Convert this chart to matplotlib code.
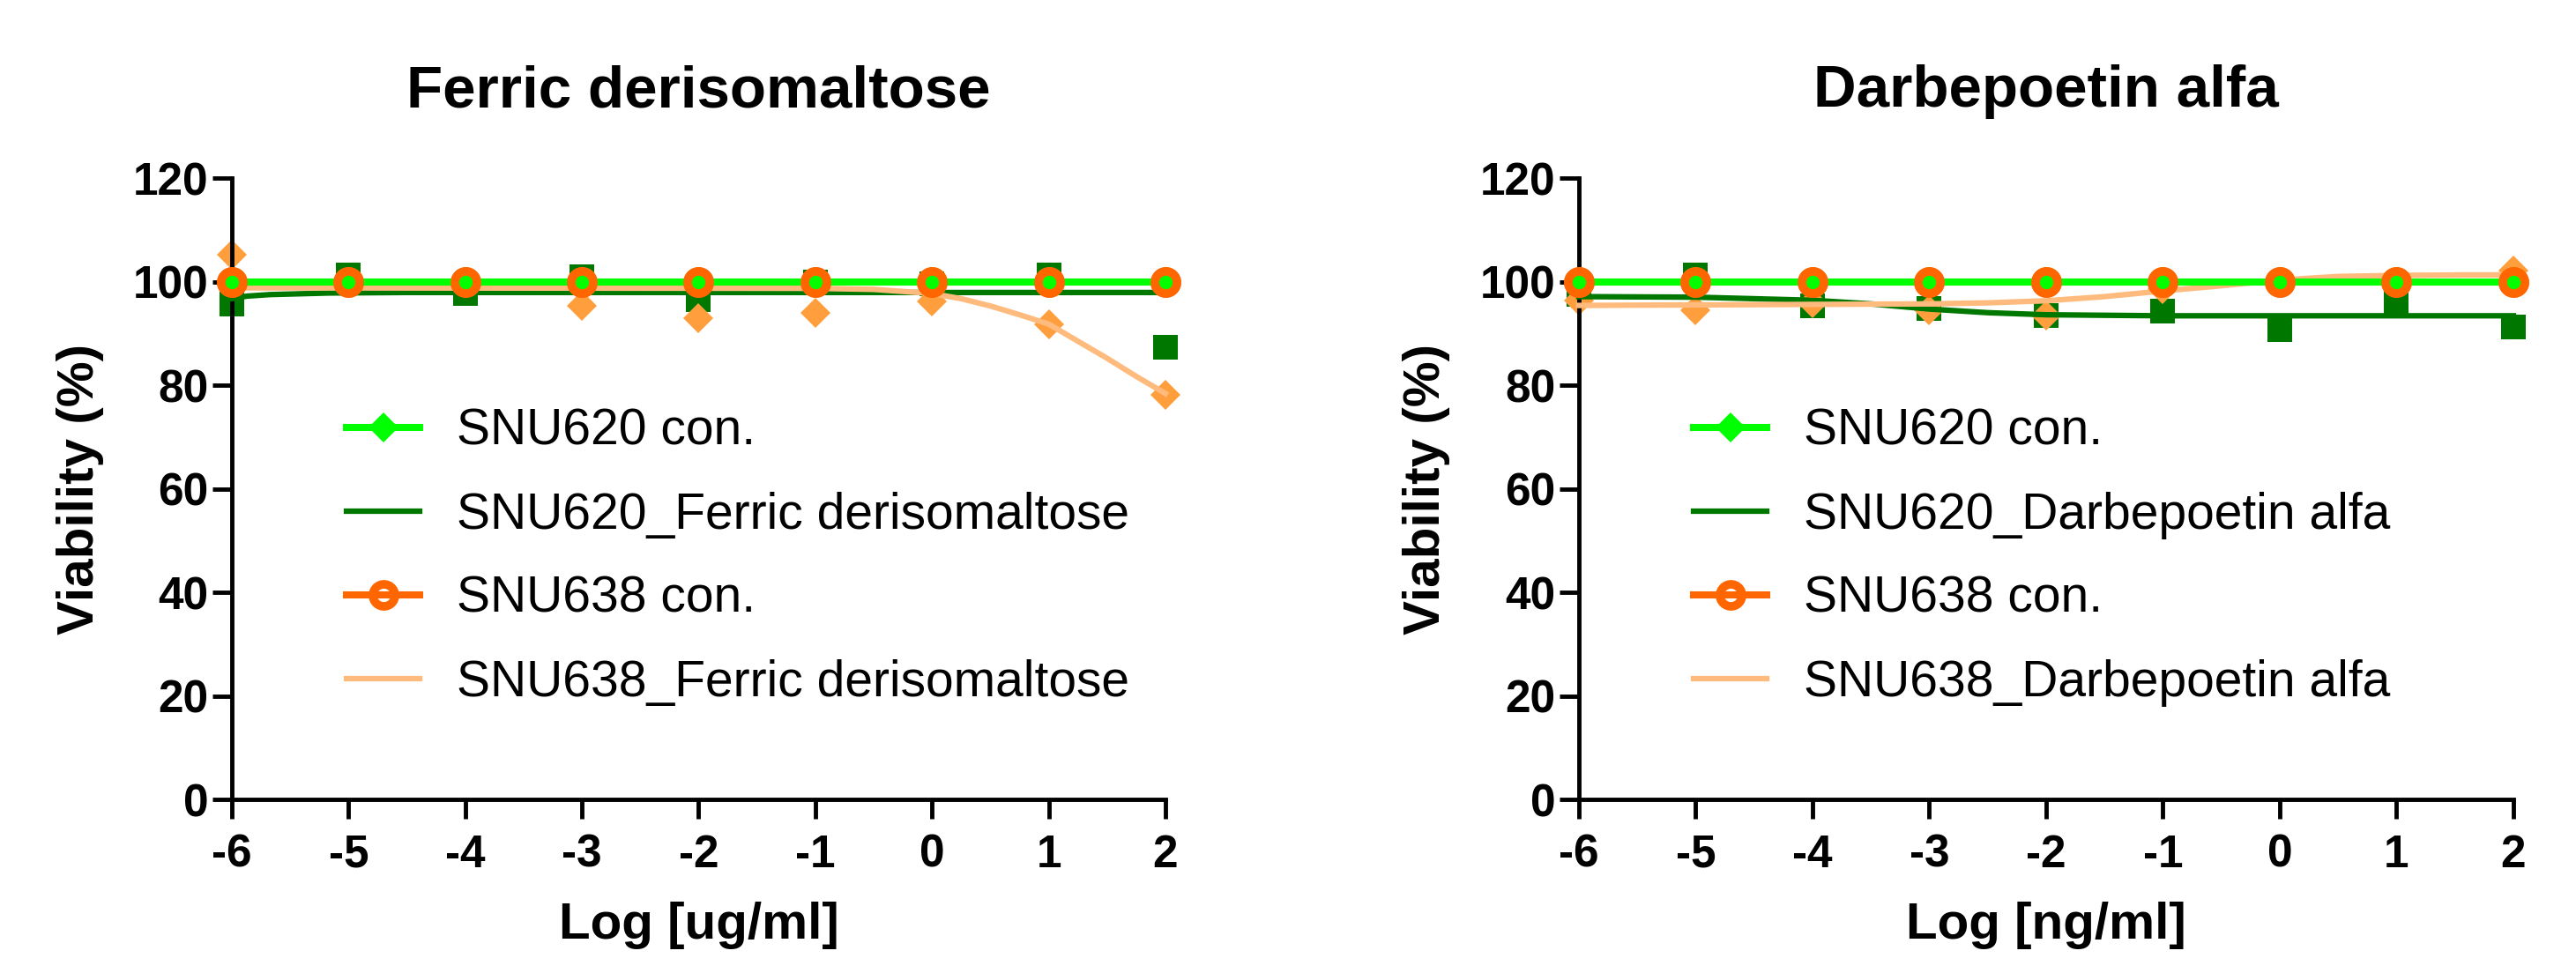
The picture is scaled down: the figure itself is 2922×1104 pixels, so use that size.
import numpy as np
import matplotlib
matplotlib.use("Agg")
import matplotlib.pyplot as plt

plt.rcParams['font.family'] = ['Liberation Sans', 'DejaVu Sans']
plt.rcParams['axes.unicode_minus'] = False

# doses (log scale)
doses = [-6, -5, -4, -3, -2, -1, 0, 1, 2]

# Ferric derisomaltose panel
fd_snu620_con = [100, 100, 100, 100, 100, 100, 100, 100, 100]
fd_snu638_con = [100, 100, 100, 100, 100, 100, 100, 100, 100]
fd_snu620 = [95.7, 101.3, 97.7, 101.0, 96.6, 100.0, 99.5, 101.3, 87.4]
fd_snu638 = [105.2, 100.0, 100.0, 95.4, 93.0, 93.9, 96.2, 91.8, 78.1]
# fitted curves
fd_fit620_x = [-6, -5.87, -5.67, -5.17, -4.5, 2]
fd_fit620_y = [96.7, 97.2, 97.5, 97.8, 97.9, 97.9]
fd_fit638_x = [-6, -1, -0.5, 0, 0.25, 0.5, 0.75, 1, 1.25, 1.5, 1.75, 2]
fd_fit638_y = [98.8, 98.7, 98.5, 97.7, 96.7, 95.3, 93.6, 91.8, 88.5, 85.2, 81.7, 78.4]

# Darbepoetin alfa panel
da_snu620_con = [100, 100, 100, 100, 100, 100, 100, 100, 100]
da_snu638_con = [100, 100, 100, 100, 100, 100, 100, 100, 100]
da_snu620 = [97.5, 101.3, 95.4, 94.8, 93.5, 94.3, 90.7, 96.2, 91.2]
da_snu638 = [96.4, 94.5, 95.8, 94.5, 93.5, 98.5, 100.0, 100.0, 102.1]
da_fit620_x = [-6, -5, -4, -3.5, -3, -2.5, -2, -1.5, -1, 2]
da_fit620_y = [97.1, 97.0, 96.4, 95.7, 94.7, 94.0, 93.6, 93.5, 93.4, 93.4]
da_fit638_x = [-6, -3, -2.5, -2, -1.5, -1, -0.5, 0, 0.5, 1, 1.6, 2]
da_fit638_y = [95.4, 95.7, 95.9, 96.3, 97.1, 98.2, 99.2, 100.3, 101.0, 101.2, 101.3, 101.3]

LIME = '#00FF00'
DKGREEN = '#007800'
ORANGE = '#FF6600'
PEACH_PT = '#FF9E3D'
PEACH_LN = '#FFBB7E'


def draw_panel(ax, title, drug, xlabel, c620, c638, p620, p638, f620x, f620y, f638x, f638y):
    ax.plot(doses, p620, 's', color=DKGREEN, ms=20, mew=0, zorder=1, clip_on=False)
    ax.plot(doses, p638, 'D', color=PEACH_PT, ms=17, mew=0, zorder=2, clip_on=False)
    h2, = ax.plot(f620x, f620y, '-', color=DKGREEN, lw=4.5, zorder=3, clip_on=False,
                  label='SNU620_' + drug)
    h4, = ax.plot(f638x, f638y, '-', color=PEACH_LN, lw=4.5, zorder=4, clip_on=False,
                  label='SNU638_' + drug)
    # orange control: line sits under the lime one, circles on top
    h3, = ax.plot(doses, c638, '-o', color=ORANGE, lw=5.8, ms=18, mew=7, mfc='none',
                  mec=ORANGE, zorder=4.5, clip_on=False, label='SNU638 con.')
    h1, = ax.plot(doses, c620, '-D', color=LIME, lw=5.8, ms=17, mew=0, zorder=5,
                  clip_on=False, label='SNU620 con.')
    ax.plot(doses, c638, 'o', ms=18, mew=7, mfc='none', mec=ORANGE, zorder=6,
            clip_on=False)

    ax.set_xlim(-6, 2)
    ax.set_ylim(0, 120)
    ax.set_xticks(doses)
    ax.set_yticks(np.arange(0, 121, 20))
    for s in ['top', 'right']:
        ax.spines[s].set_visible(False)
    for s in ['left', 'bottom']:
        ax.spines[s].set_linewidth(3.5)
    ax.tick_params(axis='both', direction='out', length=16, width=3.5, labelsize=37)
    ax.tick_params(axis='x', pad=12)
    ax.tick_params(axis='y', pad=3)
    for lab in ax.get_xticklabels() + ax.get_yticklabels():
        lab.set_fontweight('bold')

    ax.set_title(title, fontsize=48.5, fontweight='bold', pad=58)
    ax.set_xlabel(xlabel, fontsize=42, fontweight='bold', labelpad=20)
    ax.set_ylabel('Viability (%)', fontsize=42, fontweight='bold', labelpad=24)

    ax.legend(handles=[h1, h2, h3, h4], loc='upper left', bbox_to_anchor=(0.123, 0.63),
              frameon=False, fontsize=41, handlelength=1.45, handletextpad=0.74,
              labelspacing=0.72, borderpad=0, borderaxespad=0)


fig = plt.figure(figsize=(29.22, 11.04), dpi=100)
ax1 = fig.add_axes([0.0900, 0.1784, 0.3624, 0.6386])
ax2 = fig.add_axes([0.6129, 0.1784, 0.3628, 0.6386])

draw_panel(ax1, 'Ferric derisomaltose', 'Ferric derisomaltose', 'Log [ug/ml]',
           fd_snu620_con, fd_snu638_con, fd_snu620, fd_snu638,
           fd_fit620_x, fd_fit620_y, fd_fit638_x, fd_fit638_y)
draw_panel(ax2, 'Darbepoetin alfa', 'Darbepoetin alfa', 'Log [ng/ml]',
           da_snu620_con, da_snu638_con, da_snu620, da_snu638,
           da_fit620_x, da_fit620_y, da_fit638_x, da_fit638_y)

plt.savefig('out.png', dpi=100)
